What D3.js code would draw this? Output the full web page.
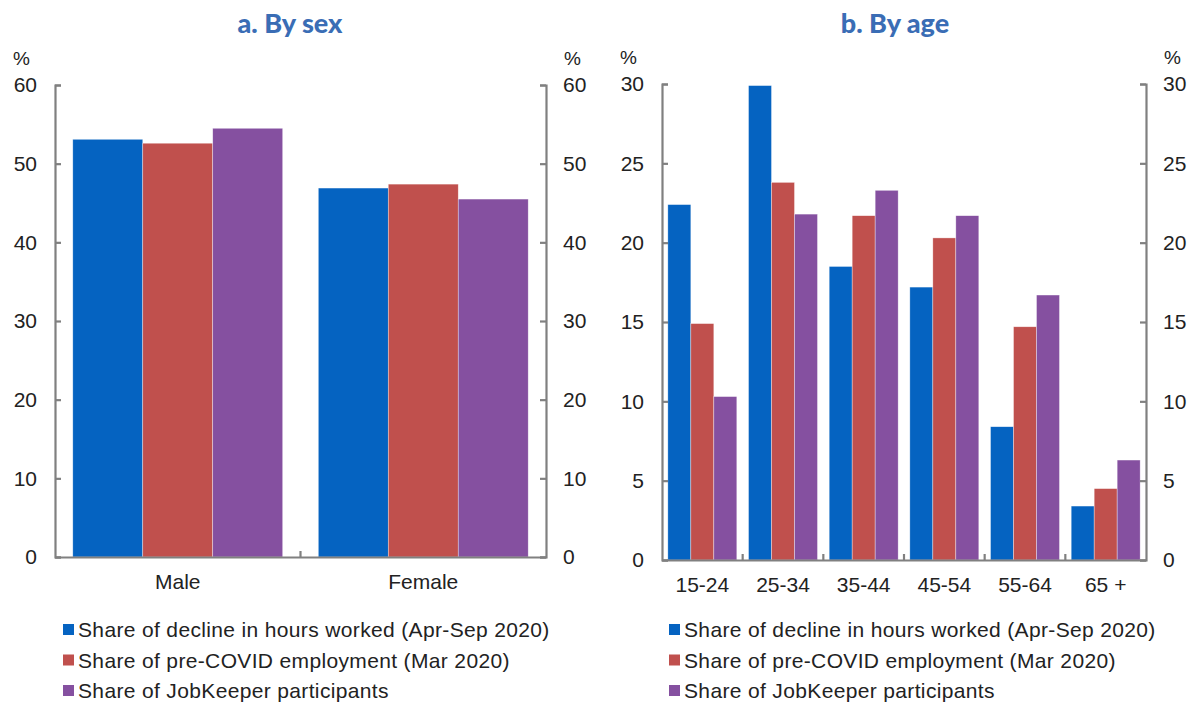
<!DOCTYPE html>
<html>
<head>
<meta charset="utf-8">
<script src="https://cdn.jsdelivr.net/npm/d3@7"></script>
<style>
  html, body { margin: 0; padding: 0; background: #fff; }
  svg { display: block; }
</style>
</head>
<body>
<svg id="chart" width="1193" height="704"></svg>
<script>
// ---- Data ----
const seriesNames = [
  "Share of decline in hours worked (Apr-Sep 2020)",
  "Share of pre-COVID employment (Mar 2020)",
  "Share of JobKeeper participants"
];
const seriesColors = ["#0563C1", "#C0504D", "#8550A0"];

const sexCategories = ["Male", "Female"];
const sexDecline    = [53.1, 46.9];
const sexEmployment = [52.6, 47.4];
const sexJobKeeper  = [54.5, 45.5];
const sexTicks      = [0, 10, 20, 30, 40, 50, 60];

const ageCategories = ["15-24", "25-34", "35-44", "45-54", "55-64", "65 +"];
const ageDecline    = [22.4, 29.9, 18.5, 17.2, 8.4, 3.4];
const ageEmployment = [14.9, 23.8, 21.7, 20.3, 14.7, 4.5];
const ageJobKeeper  = [10.3, 21.8, 23.3, 21.7, 16.7, 6.3];
const ageTicks      = [0, 5, 10, 15, 20, 25, 30];

const svg = d3.select("#chart");
const FONT = "'Liberation Sans', Arial, sans-serif";
const TXT = "#222";

function drawPanel(cfg) {
  const { title, titleX, left, right, top, bottom, categories, series, ticks, padInner, legendX } = cfg;
  const g = svg.append("g");

  const x = d3.scaleBand().domain(categories).range([left, right]).paddingInner(0).paddingOuter(0);
  const y = d3.scaleLinear().domain([ticks[0], ticks[ticks.length - 1]]).range([bottom, top]);
  const bw = x.bandwidth();
  const groupW = bw * (1 - padInner);
  const sub = d3.scaleBand().domain(d3.range(series.length)).range([0, groupW]);

  // bars
  series.forEach((vals, si) => {
    g.append("g").selectAll("rect").data(vals).join("rect")
      .attr("x", (d, i) => x(categories[i]) + (bw - groupW) / 2 + sub(si))
      .attr("y", d => y(d))
      .attr("width", sub.bandwidth())
      .attr("height", d => y(0) - y(d))
      .attr("fill", seriesColors[si])
      .attr("stroke", "#ffffff")
      .attr("stroke-opacity", 0.6)
      .attr("stroke-width", 0.6);
  });

  const axisColor = "#808080";
  const la = g.append("g").attr("transform", `translate(${left},0)`)
    .call(d3.axisLeft(y).tickValues(ticks).tickSizeInner(-6).tickSizeOuter(-6).tickPadding(18));
  const ra = g.append("g").attr("transform", `translate(${right},0)`)
    .call(d3.axisRight(y).tickValues(ticks).tickSizeInner(-6).tickSizeOuter(-6).tickPadding(17));
  [la, ra].forEach(a => {
    a.select(".domain").attr("stroke", axisColor).attr("stroke-width", 2.2);
    a.selectAll(".tick line").attr("stroke", axisColor).attr("stroke-width", 2.2);
    a.selectAll(".tick text").attr("fill", TXT).style("font-family", FONT).style("font-size", "21px");
  });

  // bottom axis (category boundary ticks pointing up)
  const xa = g.append("g").attr("transform", `translate(0,${bottom})`)
    .call(d3.axisBottom(x).tickSize(0).tickPadding(17));
  xa.select(".domain").attr("stroke", axisColor).attr("stroke-width", 2.2);
  xa.selectAll(".tick text").attr("fill", TXT).style("font-family", FONT).style("font-size", "21px");
  g.append("g").selectAll("line").data(categories.slice(1)).join("line")
    .attr("x1", d => x(d)).attr("x2", d => x(d))
    .attr("y1", bottom).attr("y2", bottom - 6)
    .attr("stroke", axisColor).attr("stroke-width", 2.2);

  // % labels
  g.append("text").attr("x", left - 25).attr("y", top - 20).attr("text-anchor", "end")
    .style("font-family", FONT).style("font-size", "19px").attr("fill", TXT).text("%");
  g.append("text").attr("x", right + 18).attr("y", top - 20).attr("text-anchor", "start")
    .style("font-family", FONT).style("font-size", "19px").attr("fill", TXT).text("%");

  // title
  g.append("text").attr("x", titleX).attr("y", 33).attr("text-anchor", "middle")
    .style("font-family", "Lato, 'Open Sans', sans-serif").style("font-weight", "900")
    .style("font-size", "27px").attr("fill", "#3A6DB5").text(title);

  // legend
  const lg = g.append("g").attr("transform", `translate(${legendX},0)`);
  seriesNames.forEach((name, i) => {
    const yy = 630 + i * 30.5;
    lg.append("rect").attr("x", 0).attr("y", yy - 6).attr("width", 11).attr("height", 11).attr("fill", seriesColors[i]);
    lg.append("text").attr("x", 15).attr("y", yy).attr("dy", "0.35em")
      .style("font-family", FONT).style("font-size", "21px").style("letter-spacing", "0.35px")
      .attr("fill", TXT).text(name);
  });
}

drawPanel({
  title: "a. By sex", titleX: 290,
  left: 55, right: 546, top: 85, bottom: 557,
  categories: sexCategories,
  series: [sexDecline, sexEmployment, sexJobKeeper],
  ticks: sexTicks, padInner: 0.145, legendX: 63
});

drawPanel({
  title: "b. By age", titleX: 895,
  left: 662, right: 1146, top: 84, bottom: 560,
  categories: ageCategories,
  series: [ageDecline, ageEmployment, ageJobKeeper],
  ticks: ageTicks, padInner: 0.145, legendX: 669
});
</script>
</body>
</html>
